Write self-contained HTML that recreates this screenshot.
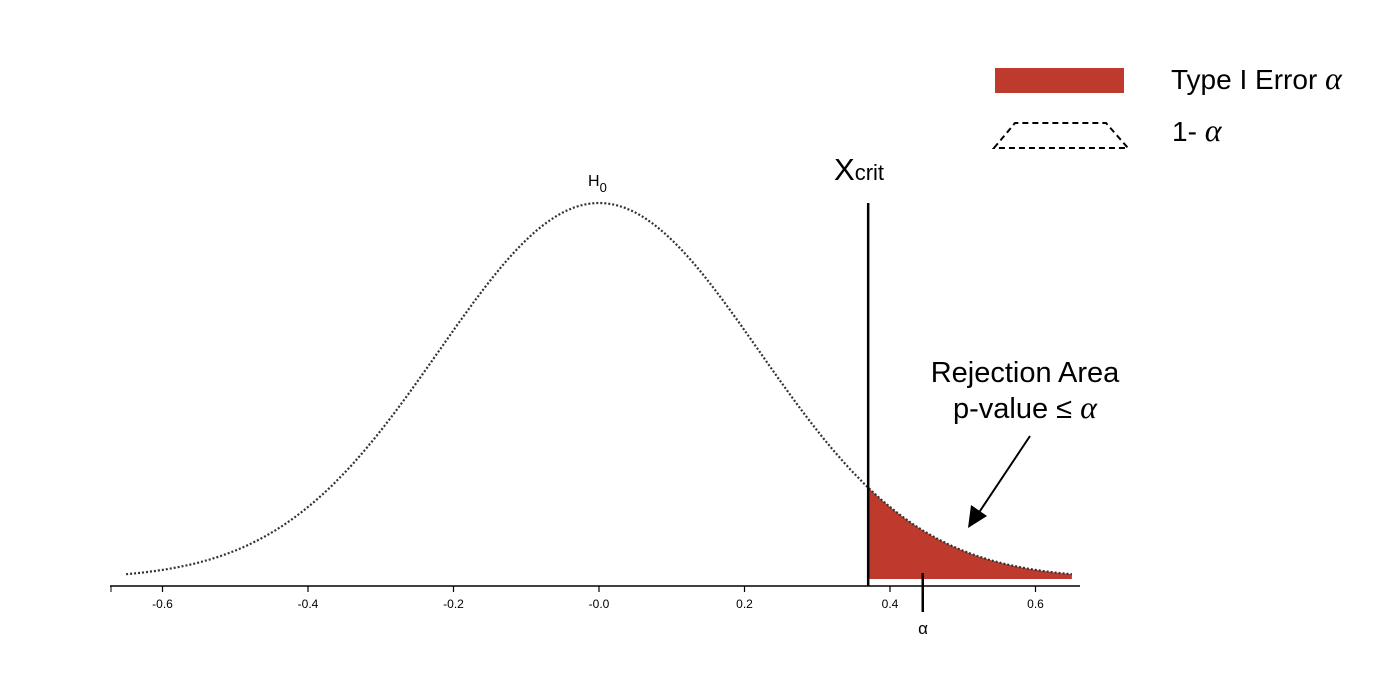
<!DOCTYPE html>
<html><head><meta charset="utf-8"><style>
html,body{margin:0;padding:0;background:#fff;width:1400px;height:680px;overflow:hidden}
svg{display:block}
text{font-family:"Liberation Sans",sans-serif;fill:#000}
</style></head><body>
<svg id="chart" width="1400" height="680" viewBox="0 0 1400 680">
<g>
<rect x="995" y="68" width="129" height="25" fill="#bd3a2c"/>
<text x="1171" y="89" font-size="28">Type I Error <tspan font-family="Liberation Serif" font-style="italic" font-size="32">α</tspan></text>
<path d="M994,148 L1015,123 L1106,123 L1128,148 Z" fill="none" stroke="#000" stroke-width="2" stroke-dasharray="6,4"/>
<text x="1172" y="141" font-size="28">1- <tspan font-family="Liberation Serif" font-style="italic" font-size="32">α</tspan></text>
</g>
<g id="plot"></g>
<text x="834" y="180" font-size="31">X<tspan font-size="22">crit</tspan></text>
<text x="588" y="186" font-size="16">H<tspan font-size="13" dy="6">0</tspan></text>
<text x="1025" y="382" font-size="29" text-anchor="middle">Rejection Area</text>
<text x="1025" y="418" font-size="29" text-anchor="middle">p-value ≤ <tspan font-family="Liberation Serif" font-style="italic" font-size="32">α</tspan></text>
<line x1="1030" y1="436" x2="978" y2="514" stroke="#000" stroke-width="2"/>
<polygon points="968,528 971,505 987,516" fill="#000"/>
<text x="923" y="634" font-size="17" text-anchor="middle">α</text>
</svg>
<script>
const tickValues=[-0.6,-0.4,-0.2,0.0,0.2,0.4,0.6];
const tickLabels=["-0.6","-0.4","-0.2","-0.0","0.2","0.4","0.6"];
const distMean=[0];
const distSd=[0.22];
const critValue=[0.37];
const alphaMark=[0.445];
const domainX=[-0.65,0.65];

const NS="http://www.w3.org/2000/svg";
const g=document.getElementById('plot');
const xs=v=>599+v*727.5;
const pdf=v=>Math.exp(-0.5*Math.pow((v-distMean[0])/distSd[0],2));
const ys=p=>579-p*376;
function mk(t,a){const e=document.createElementNS(NS,t);for(const k in a)e.setAttribute(k,a[k]);g.appendChild(e);return e;}

let d=`M${xs(critValue[0])},${ys(0)}`;
for(let v=critValue[0];v<=domainX[1]+1e-9;v+=0.005)d+=` L${xs(v).toFixed(1)},${ys(pdf(v)).toFixed(1)}`;
d+=` L${xs(domainX[1])},${ys(0)} Z`;
const area=mk('path',{d:d,fill:'#bd3a2c'});



let c='';
for(let v=domainX[0];v<=domainX[1]+1e-9;v+=0.005)c+=(c?' L':'M')+xs(v).toFixed(1)+','+ys(pdf(v)).toFixed(1);
const curve=mk('path',{d:c,fill:'none',stroke:'#333',"stroke-width":2.2,"stroke-dasharray":"2,2"});



const ax=mk('line',{x1:110,x2:1080,y1:586,y2:586,stroke:'#000',"stroke-width":1.5});


tickValues.forEach((v,i)=>{
 const t=mk('line',{x1:xs(v),x2:xs(v),y1:586,y2:592,stroke:'#000',"stroke-width":1.2});
 
 
 const l=mk('text',{x:xs(v),y:608,"font-size":12,"text-anchor":"middle"});
 l.textContent=tickLabels[i];
 
 
});
const e1=mk('line',{x1:111,x2:111,y1:586,y2:592,stroke:'#000'});



const cl=mk('line',{x1:xs(critValue[0]),x2:xs(critValue[0]),y1:203,y2:586,stroke:'#000',"stroke-width":2.5});



const am=mk('line',{x1:xs(alphaMark[0]),x2:xs(alphaMark[0]),y1:573,y2:612,stroke:'#000',"stroke-width":2.5});


</script>
</body></html>
